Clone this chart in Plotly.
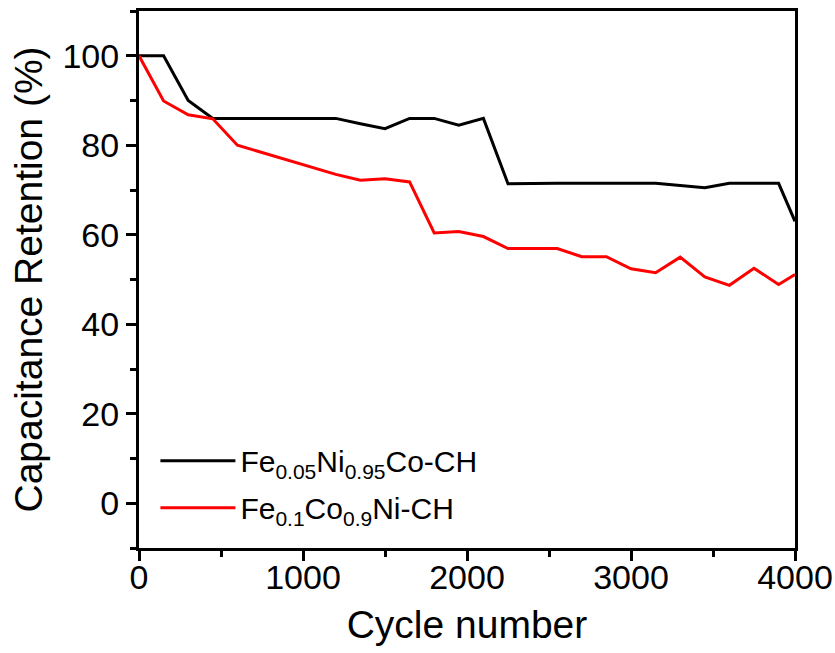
import plotly.graph_objects as go

# Cycle counts at which retention was measured
cycles = [0, 150, 300, 450, 600, 750, 900, 1050, 1200, 1350, 1500, 1650, 1800, 1950,
          2100, 2250, 2400, 2550, 2700, 2850, 3000, 3150, 3300, 3450, 3600, 3750, 3900, 4000]

# Capacitance retention (%) for each electrode
fe005_ni095 = [100, 100, 90.0, 86.0, 86.0, 86.0, 86.0, 86.0, 86.0, 84.8, 83.7, 86.0, 86.0, 84.5,
               86.0, 71.4, 71.5, 71.5, 71.5, 71.5, 71.5, 71.5, 71.0, 70.5, 71.5, 71.5, 71.5, 63.0]
fe01_co09 = [100, 89.9, 86.8, 85.9, 80.0, 78.4, 76.8, 75.1, 73.5, 72.2, 72.5, 71.8, 60.4, 60.7,
             59.6, 56.9, 56.9, 56.9, 55.1, 55.1, 52.4, 51.5, 55.0, 50.6, 48.7, 52.5, 48.9, 51.1]

names = ["Fe<sub>0.05</sub>Ni<sub>0.95</sub>Co-CH", "Fe<sub>0.1</sub>Co<sub>0.9</sub>Ni-CH"]
x_ticks = [0, 1000, 2000, 3000, 4000]
y_ticks = [0, 20, 40, 60, 80, 100]

FONT = "Arial, 'Liberation Sans', sans-serif"

fig = go.Figure()
fig.add_trace(go.Scatter(x=cycles, y=fe005_ni095, mode="lines", name=names[0],
                         legendgroup="a", line=dict(color="black", width=3)))
fig.add_trace(go.Scatter(x=cycles, y=fe01_co09, mode="lines", name=names[1],
                         legendgroup="b", line=dict(color="#ff0000", width=3)))

axis_common = dict(
    showline=True, linewidth=3, linecolor="black", mirror=True,
    ticks="outside", ticklen=10, tickwidth=3, tickcolor="black",
    showgrid=False, zeroline=False, automargin=False,
    tickfont=dict(family=FONT, size=34, color="black"),
)

fig.update_xaxes(
    range=[0, 4000], tickvals=x_ticks, ticklabelstandoff=-13,
    minor=dict(ticks="outside", ticklen=6, tickwidth=3, tickcolor="black", dtick=500, tick0=0),
    title=dict(text="Cycle number", font=dict(family=FONT, size=39, color="black"), standoff=16),
    **axis_common,
)
fig.update_yaxes(
    range=[-10, 110], tickvals=y_ticks,
    minor=dict(ticks="outside", ticklen=6, tickwidth=3, tickcolor="black", dtick=10, tick0=0),
    title=dict(text="Capacitance Retention (%)", font=dict(family=FONT, size=39, color="black"), standoff=8),
    **axis_common,
)

fig.update_layout(
    width=835, height=653,
    margin=dict(l=139, r=40, t=11, b=105),
    paper_bgcolor="white", plot_bgcolor="white",
    font=dict(family=FONT, color="black"),
    legend=dict(
        x=0.025, y=0.211, xanchor="left", yanchor="top",
        bgcolor="rgba(0,0,0,0)", borderwidth=0,
        font=dict(family=FONT, size=30, color="black"),
        itemwidth=75, tracegroupgap=5,
    ),
)

fig.write_html("out.html")
